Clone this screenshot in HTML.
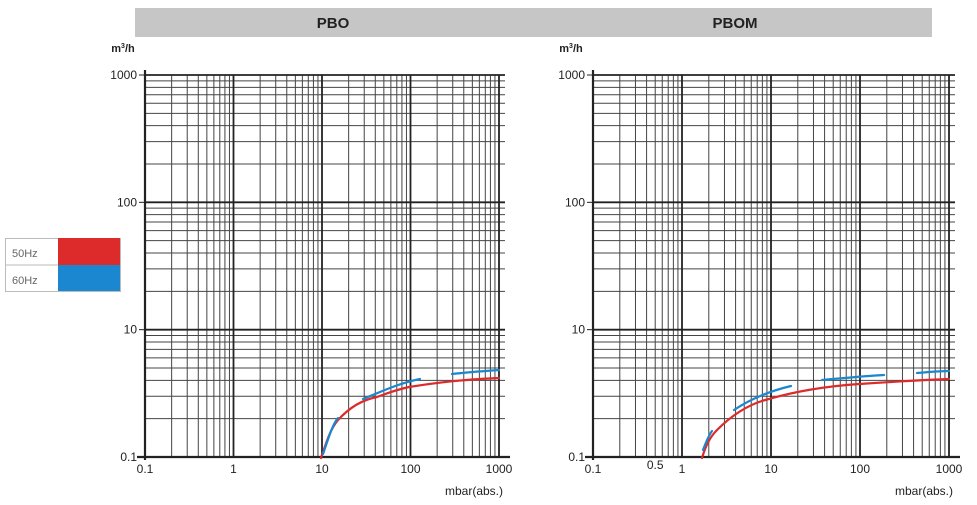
<!DOCTYPE html>
<html><head><meta charset="utf-8"><style>
body{margin:0;background:#fff;width:977px;height:500px;overflow:hidden;font-family:"Liberation Sans",sans-serif}
</style></head><body>
<svg id="s" width="977" height="500" xmlns="http://www.w3.org/2000/svg" font-family="Liberation Sans, sans-serif">
<rect x="135" y="8" width="797" height="29" fill="#c6c6c6"/>
<text x="333" y="28" font-size="15" font-weight="bold" text-anchor="middle" fill="#222">PBO</text>
<text x="735" y="28" font-size="15" font-weight="bold" text-anchor="middle" fill="#222">PBOM</text>
<rect x="5.5" y="238.5" width="115" height="53" fill="#fff" stroke="#bbb"/>
<line x1="5" y1="265" x2="120" y2="265" stroke="#bbb"/>
<rect x="58" y="238" width="62" height="27" fill="#dd2a2a"/>
<rect x="58" y="265" width="62" height="26" fill="#1a87d0"/>
<text x="12" y="257" font-size="11" fill="#666">50Hz</text>
<text x="12" y="284" font-size="11" fill="#666">60Hz</text>
<g id="g"></g>
<g fill="none" stroke-width="2.2" stroke-linecap="round">
<path d="M321,458 C327,440 331,428 338,420 C350,407 362,400 377,397 C390,392 400,389 409,387 C440,382 470,379 499,378" stroke="#dd2a2a"/>
<path d="M323,454 C328,440 332,425 338,418" stroke="#1a87d0"/>
<path d="M363,399 C385,390 400,383 420,379" stroke="#1a87d0"/>
<path d="M452,374 C470,372 485,371 499,370" stroke="#1a87d0"/>
<path d="M702,458 C706,445 710,437 717,430 C735,412 752,403 769,399 C800,390 830,386 859,384 C890,382 920,380 949,379" stroke="#dd2a2a"/>
<path d="M703,450 C706,442 709,435 712,431" stroke="#1a87d0"/>
<path d="M734,410 C752,398 770,391 791,386" stroke="#1a87d0"/>
<path d="M822,380 C845,378 865,376 884,375" stroke="#1a87d0"/>
<path d="M917,373 C930,372 940,371 949,371" stroke="#1a87d0"/>
</g>
</svg>
<script>
var g=document.getElementById('g'),h='';
function L(x1,y1,x2,y2,w,c){h+='<line x1="'+x1+'" y1="'+y1+'" x2="'+x2+'" y2="'+y2+'" stroke="'+(c||'#333')+'" stroke-width="'+w+'"/>';}
function T(x,y,t,a,s,b){h+='<text x="'+x+'" y="'+y+'" font-size="'+(s||12)+'" text-anchor="'+(a||'middle')+'" fill="#222"'+(b?' font-weight="bold"':'')+'>'+t+'</text>';}
function chart(x0,x1,half){
 var top=75,bot=457,dx=(x1-x0)/4,dy=(bot-top)/3;
 for(var d=0;d<4;d++)for(var k=2;k<=9;k++){var x=x0+dx*(d+Math.log10(k));L(x,top,x,bot,1,'#444');}
 for(var d=0;d<3;d++)for(var k=2;k<=9;k++){var y=bot-dy*(d+Math.log10(k));L(x0,y,x1+6,y,1,'#444');}
 for(var d=1;d<=4;d++){var x=x0+dx*d;L(x,top,x,bot,1.8,'#222');}
 for(var d=0;d<=3;d++){var y=bot-dy*d;L(x0,y,x1+6,y,d==0?2:1.8,'#222');L(x0-6,y,x0,y,1,'#222');}
 L(x0,top-5,x0,bot+3,2.2,'#222');L(x0-8,bot,x1+11,bot,2.2,'#222');
 var yl=['0.1','10','100','1000'];for(var d=0;d<=3;d++)T(x0-8,bot-dy*d+4,yl[d],'end',12);
 var xl=['0.1','1','10','100','1000'];for(var d=0;d<=4;d++)T(x0+dx*d,bot+16,xl[d]);
 if(half)T(x0+dx*Math.log10(5),bot+12,'0.5');
 T(x1+4,bot+38,'mbar(abs.)','end',12);
 T(x0-22,top-23,'m<tspan font-size="7" dy="-4">3</tspan><tspan dy="4">/h</tspan>','middle',11,true);
}
chart(145,499,false);
chart(593,949,true);
g.innerHTML=h;
</script>
</body></html>
